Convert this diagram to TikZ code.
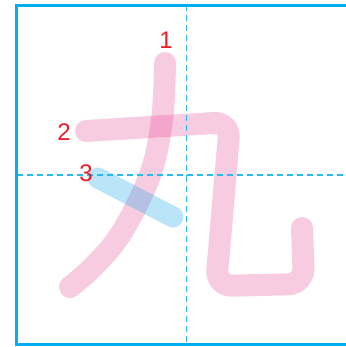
\documentclass[tikz,border=0pt]{standalone}
\usepackage{fontspec}
\setmainfont{Liberation Sans}
\definecolor{gridblue}{RGB}{0,174,239}
\definecolor{dashblue}{RGB}{40,185,240}
\definecolor{strokepink}{RGB}{226,43,126}
\definecolor{strokeblue}{RGB}{0,160,233}
\definecolor{numred}{RGB}{232,30,40}
\tikzset{
  pinkstroke/.style={draw=strokepink, draw opacity=0.24, line width=22pt, line cap=round, line join=round},
  bluestroke/.style={draw=strokeblue, draw opacity=0.27, line width=21pt, line cap=round},
  gridline/.style={draw=dashblue, line width=1.2pt, dash pattern=on 6pt off 4pt},
  numlabel/.style={text=numred, font=\fontsize{24}{24}\selectfont, inner sep=0pt}
}
\begin{document}
\begin{tikzpicture}[x=1pt,y=-1pt]
\useasboundingbox (0,0) rectangle (345,347);
% stroke 1
\draw[pinkstroke] plot[smooth, tension=0.6] coordinates {(165,63) (162,120) (150,175) (122,232) (95,265) (70,287)};
% stroke 2
\draw[pinkstroke, rounded corners=16pt] (86,131) -- (230,122) -- (216,286) -- (304,284) -- (302,228);
% stroke 3
\draw[bluestroke] (98,178) -- (173,217);
% grid
\draw[gridline] (186.5,5.5) -- (186.5,344);
\draw[gridline] (16.5,175) -- (345,175);
\draw[draw=gridblue, line width=2.5pt] (350,5.5) -- (16.5,5.5) -- (16.5,344.5) -- (350,344.5);
% numbers
\node[numlabel] (n1) at (166,40) {1};
\node[numlabel] (n2) at (64,132) {2};
\node[numlabel] (n3) at (86,173) {3};
\end{tikzpicture}
\end{document}
